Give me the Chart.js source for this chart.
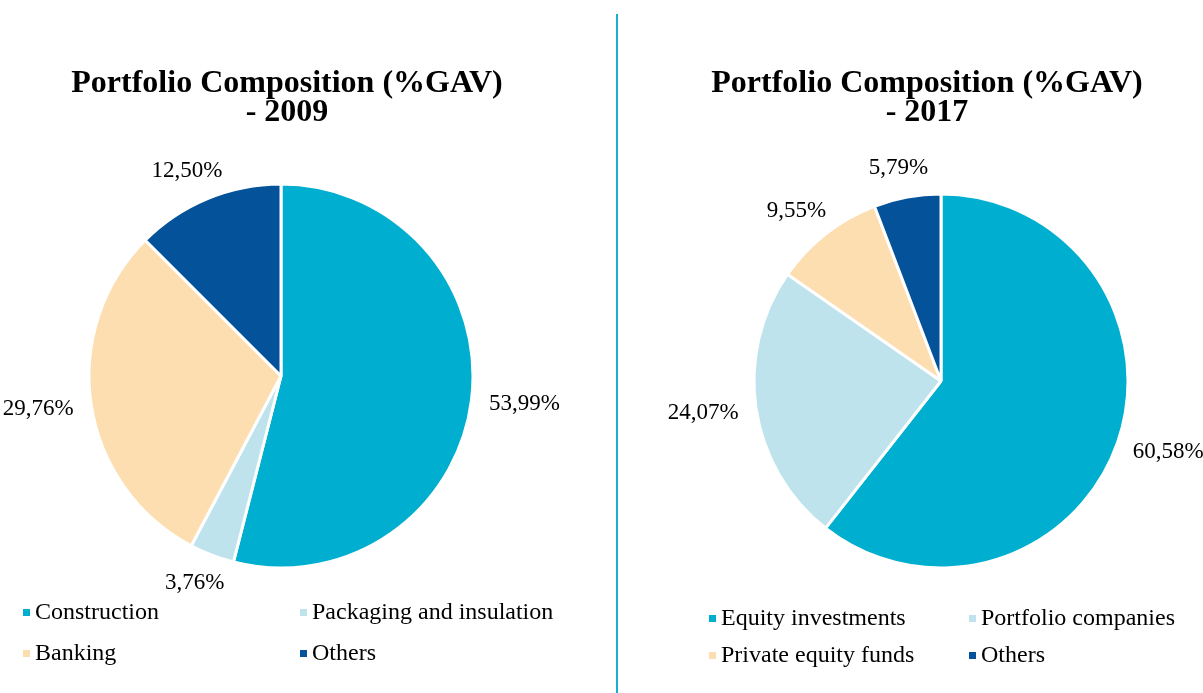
<!DOCTYPE html>
<html>
<head>
<meta charset="utf-8">
<script src="https://cdn.jsdelivr.net/npm/chart.js@4/dist/chart.umd.min.js"></script>
<style>
  body { margin: 0; background: #fff; width: 1203px; height: 693px; overflow: hidden; position: relative; font-family: 'Liberation Serif', 'Times New Roman', serif; }
  canvas { position: absolute; top: 0; }
  #c2009 { left: 0; }
  #c2017 { left: 651px; }
  .divider { position: absolute; left: 616px; top: 14px; width: 2px; height: 679px; background: #1aafd0; }
  .legend-item { position: absolute; font-size: 24px; color: #000; white-space: nowrap; line-height: 24px; }
  .legend-item i { position: absolute; left: -12px; top: 10px; width: 7px; height: 7px; }
</style>
</head>
<body>
<canvas id="c2009" width="574" height="693"></canvas>
<div class="divider"></div>
<canvas id="c2017" width="552" height="693"></canvas>
<div id="legends"></div>
<script>
// data
const labels2009 = ['Construction', 'Packaging and insulation', 'Banking', 'Others'];
const values2009 = [53.99, 3.76, 29.76, 12.50];
const labels2017 = ['Equity investments', 'Portfolio companies', 'Private equity funds', 'Others'];
const values2017 = [60.58, 24.07, 9.55, 5.79];
const sliceColors = ['#00aecf', '#bee3ec', '#fddeb0', '#03529a'];

const serif = "'Liberation Serif', 'Times New Roman', serif";

// draws "53,99%" style labels just outside each slice
const outsideLabels = {
    id: 'outsideLabels',
    afterDatasetsDraw(chart) {
        const ctx = chart.ctx;
        const meta = chart.getDatasetMeta(0);
        const data = chart.data.datasets[0].data;
        ctx.save();
        ctx.font = '23px ' + serif;
        ctx.fillStyle = '#000';
        ctx.textAlign = 'center';
        ctx.textBaseline = 'middle';
        meta.data.forEach((arc, i) => {
            const p = arc.getProps(['x', 'y', 'startAngle', 'endAngle', 'outerRadius'], true);
            const mid = (p.startAngle + p.endAngle) / 2;
            const dx = Math.cos(mid), dy = Math.sin(mid);
            const text = data[i].toFixed(2).replace('.', ',') + '%';
            const w = ctx.measureText(text).width;
            const r = p.outerRadius + 18;
            const x = p.x + dx * r + dx * w / 2;
            const y = p.y + dy * r + dy * 11.5;
            ctx.fillText(text, x, y);
        });
        ctx.restore();
    }
};

// title drawn at a fixed x, so the pie can sit off-centre under it
const panelTitle = {
    id: 'panelTitle',
    afterDraw(chart, args, opts) {
        const ctx = chart.ctx;
        ctx.save();
        ctx.font = 'bold 32px ' + serif;
        ctx.fillStyle = '#000';
        ctx.textAlign = 'center';
        ctx.textBaseline = 'middle';
        opts.lines.forEach((line, i) => {
            ctx.fillText(line, opts.x, opts.y + i * opts.lineHeight);
        });
        ctx.restore();
    }
};

function makePie(id, labels, values, year, radius, pad, titleX) {
    return new Chart(document.getElementById(id), {
        type: 'pie',
        data: {
            labels: labels,
            datasets: [{
                data: values,
                backgroundColor: sliceColors,
                borderColor: '#ffffff',
                borderWidth: 3,
                radius: radius,
            }],
        },
        options: {
            responsive: false,
            animation: false,
            layout: { padding: pad },
            plugins: {
                legend: { display: false },
                tooltip: { enabled: false },
                title: { display: false },
                panelTitle: {
                    lines: ['Portfolio Composition (%GAV)', '- ' + year],
                    x: titleX, y: 84, lineHeight: 29,
                },
            },
        },
        plugins: [outsideLabels, panelTitle],
    });
}

makePie('c2009', labels2009, values2009, 2009, 192, { left: 89, right: 101, top: 184, bottom: 125 }, 287);
makePie('c2017', labels2017, values2017, 2017, 187, { left: 103, right: 75, top: 194, bottom: 125 }, 276);

// html legends, two columns
function addLegend(labels, cols, rows) {
    const box = document.getElementById('legends');
    labels.forEach((name, i) => {
        const el = document.createElement('div');
        el.className = 'legend-item';
        el.style.left = cols[i % 2] + 'px';
        el.style.top = (rows[Math.floor(i / 2)] - 12) + 'px';
        el.innerHTML = '<i style="background:' + sliceColors[i] + '"></i>' + name;
        box.appendChild(el);
    });
}
addLegend(labels2009, [35, 312], [611, 652]);
addLegend(labels2017, [721, 981], [617, 654]);
</script>
</body>
</html>
